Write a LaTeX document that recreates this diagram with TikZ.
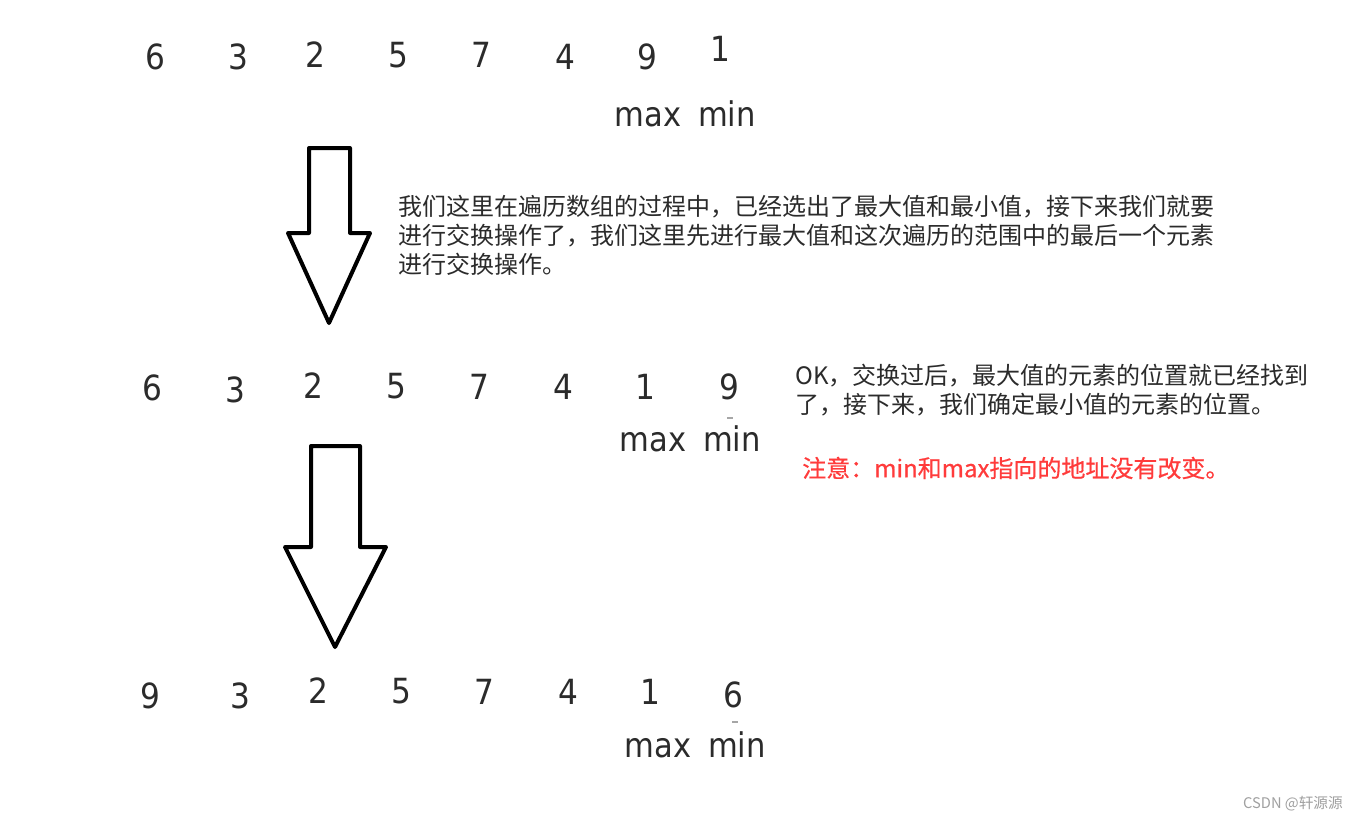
\documentclass[tikz,border=0pt]{standalone}
\usepackage{fontspec}
\setmainfont{DejaVu Sans}
\newfontfamily\cjk{Noto Sans CJK SC}
\newfontfamily\cjkbold[FakeBold=0.6]{Noto Sans CJK SC}
\newfontfamily\digitfont{DejaVu Sans Condensed}
\definecolor{txtgray}{HTML}{2B2B2B}
\definecolor{notered}{HTML}{FF3B3B}
\definecolor{wmgray}{HTML}{A0A0A0}
\tikzset{
  num/.style={inner sep=0pt, anchor=center, font=\digitfont\fontsize{26}{30}\selectfont, text=txtgray},
  ptr/.style={inner sep=0pt, anchor=base, font=\digitfont\fontsize{25.5}{30}\selectfont, text=txtgray},
  para/.style={inner sep=0pt, anchor=north west, align=left, text=txtgray, font=\cjk\fontsize{18}{21.75}\selectfont},
  bigarrow/.style={draw=black, line width=3pt, line join=round, fill=white},
  speck/.style={draw=black!35, line width=0.8pt}
}
\begin{document}
\begin{tikzpicture}[x=0.75pt, y=-0.75pt]
\useasboundingbox (0,0) rectangle (1358,821);
\fill[white] (0,0) rectangle (1358,821);

% row 1
\node[num] (a1) at (155,57) {6};
\node[num] (a2) at (238,57) {3};
\node[num] (a3) at (315,55) {2};
\node[num] (a4) at (398,55) {5};
\node[num] (a5) at (481,55) {7};
\node[num] (a6) at (565,57) {4};
\node[num] (a7) at (647,57) {9};
\node[num] (a8) at (720,49) {1};
\node[ptr] (amax) at (648,126) {max};
\node[ptr] (amin) at (727,126) {min};

% arrow 1
\draw[bigarrow] (309,148) -- (350,148) -- (350,233) -- (370,233) -- (329,323) -- (288,233) -- (309,233) -- cycle;

\node[para] (t1) at (398,195) {我们这里在遍历数组的过程中，已经选出了最大值和最小值，接下来我们就要\\进行交换操作了，我们这里先进行最大值和这次遍历的范围中的最后一个元素\\进行交换操作。};

% row 2
\node[num] (b1) at (152,388) {6};
\node[num] (b2) at (235,390) {3};
\node[num] (b3) at (313,386) {2};
\node[num] (b4) at (396,386) {5};
\node[num] (b5) at (479,387) {7};
\node[num] (b6) at (563,387) {4};
\node[num] (b7) at (645,387) {1};
\node[num] (b8) at (729,387) {9};
\draw[speck] (727,418) -- (733,418);
\node[ptr] (bmax) at (653,451) {max};
\node[ptr] (bmin) at (732,451) {min};

\node[para] (t2) at (795,364) {OK，交换过后，最大值的元素的位置就已经找到\\了，接下来，我们确定最小值的元素的位置。};
\node[para, text=notered, anchor=west, font=\cjkbold\fontsize{18}{21.75}\selectfont] (t3) at (802,468) {注意：min和max指向的地址没有改变。};

% arrow 2
\draw[bigarrow] (311,446) -- (360,446) -- (360,547) -- (386,547) -- (335,647) -- (285,547) -- (311,547) -- cycle;

% row 3
\node[num] (c1) at (150,696) {9};
\node[num] (c2) at (240,696) {3};
\node[num] (c3) at (318,691) {2};
\node[num] (c4) at (401,691) {5};
\node[num] (c5) at (484,692) {7};
\node[num] (c6) at (568,692) {4};
\node[num] (c7) at (650,692) {1};
\node[num] (c8) at (733,695) {6};
\draw[speck] (732,722) -- (738,722);
\node[ptr] (cmax) at (658,757) {max};
\node[ptr] (cmin) at (737,757) {min};

% watermark
\node[inner sep=0pt, anchor=east, text=wmgray, font=\cjk\fontsize{11}{12}\selectfont] (wm) at (1343,804) {CSDN @轩源源};
\end{tikzpicture}
\end{document}
